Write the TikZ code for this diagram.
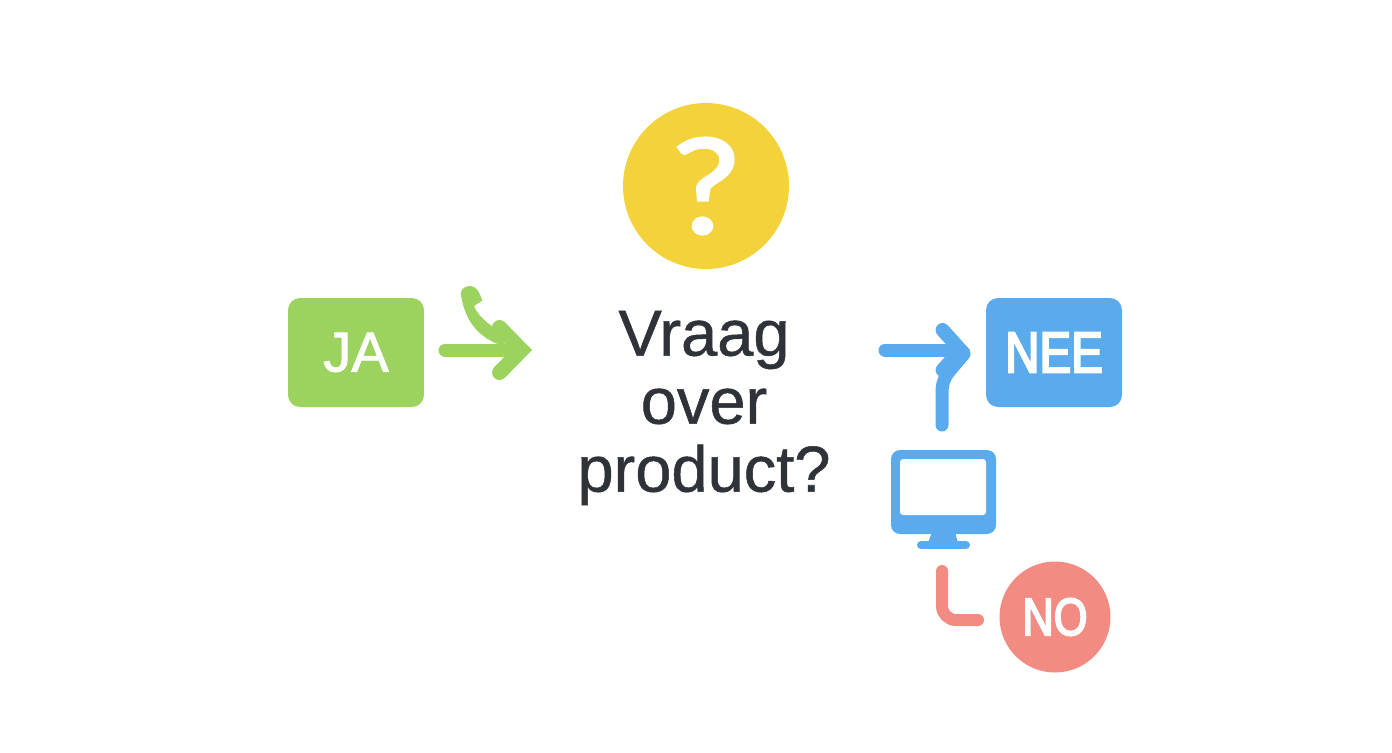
\documentclass[tikz,border=0pt]{standalone}
\usepackage{fontspec}
\setmainfont{Liberation Sans}
\newfontfamily\askfont[FakeBold=2,FakeStretch=1.15]{Lato}
\newfontfamily\capfont[FakeBold=3.5,FakeStretch=0.82]{Liberation Sans}
\newfontfamily\jafont[FakeBold=1.5]{Liberation Sans}
\newfontfamily\vraagfont[FakeBold=0.8]{Liberation Sans}
\usetikzlibrary{arrows.meta}

\definecolor{jagreen}{HTML}{9CD35F}
\definecolor{neeblue}{HTML}{5AABEE}
\definecolor{nored}{HTML}{F28B82}
\definecolor{askyellow}{HTML}{F4D23C}
\definecolor{asktext}{HTML}{2F3339}

\tikzset{
  answerbox/.style={rectangle,rounded corners=0.24cm,inner sep=0,outer sep=0,minimum width=2.72cm,minimum height=2.18cm,text=white},
  answerdot/.style={circle,inner sep=0,outer sep=0,text=white},
  link/.style={line width=0.26cm,line cap=round,line join=round}
}

\begin{document}
\begin{tikzpicture}[x=0.02cm,y=-0.02cm]

\useasboundingbox (0,0) rectangle (1392,752);

\node (ask) [answerdot,fill=askyellow,minimum size=3.32cm] at (706,186) {};
\node (askmark) [text=white,font=\askfont\fontsize{75}{75}\selectfont] at (706,186) {?};

\node (vraag) [text=asktext,align=center,font=\vraagfont\fontsize{37}{38.7}\selectfont] at (704,408) {Vraag\\over\\product?};

\node (ja) [answerbox,fill=jagreen,font=\jafont\fontsize{32}{32}\selectfont] at (356,352.5) {JA};
\node (nee) [answerbox,fill=neeblue,font=\capfont\fontsize{33}{33}\selectfont] at (1054,352.5) {NEE};
\node (no) [answerdot,fill=nored,minimum size=2.22cm,font=\capfont\fontsize{30}{30}\selectfont] at (1055,617) {NO};

\node (monitor) [fill=neeblue,rectangle,rounded corners=0.18cm,inner sep=0,outer sep=0,minimum width=2.1cm,minimum height=1.68cm] at (943.5,492) {};
\node (screen) [fill=white,rectangle,rounded corners=0.06cm,inner sep=0,outer sep=0,minimum width=1.72cm,minimum height=1.12cm] at (943,487) {};
\fill[neeblue] (932,532) -- (955,532) -- (958,543) -- (928,543) -- cycle;
\draw[neeblue,line width=0.16cm,line cap=round] (921,545) -- (966,545);

\coordinate (jastart) at (445,350);
\coordinate (jatip) at (532,350);
\draw[link,draw=jagreen,-{Straight Barb[length=0.44cm,width=0.9cm,line width=0.3cm,line cap=round,line join=miter]}] (jastart) -- (jatip);

\fill[jagreen] (460.7,293) .. controls (462,288) and (466,286) .. (470,286) .. controls (475,286) and (479,290) .. (482.3,300.7) -- (474,306) .. controls (477,314) and (487,324) .. (497,329) -- (505,345) -- (500,345) .. controls (482,338) and (465,325) .. (460.7,293) -- cycle;

\coordinate (neestart) at (885,350);
\coordinate (neetip) at (970,350);
\draw[link,draw=neeblue,-{Straight Barb[length=0.36cm,width=0.8cm,line width=0.28cm,line cap=round,line join=miter]}] (neestart) -- (neetip);

\coordinate (monitortop) at (942,425);
\coordinate (monitorbend) at (942,380);
\coordinate (neejoin) at (964,354);
\draw[link,draw=neeblue,rounded corners=0.2cm] (monitortop) -- (monitorbend) -- (neejoin);

\coordinate (nostart) at (942,571);
\coordinate (nocorner) at (942,620);
\coordinate (noend) at (978,620);
\draw[link,draw=nored,line width=0.24cm,rounded corners=0.28cm] (nostart) -- (nocorner) -- (noend);

\end{tikzpicture}
\end{document}
